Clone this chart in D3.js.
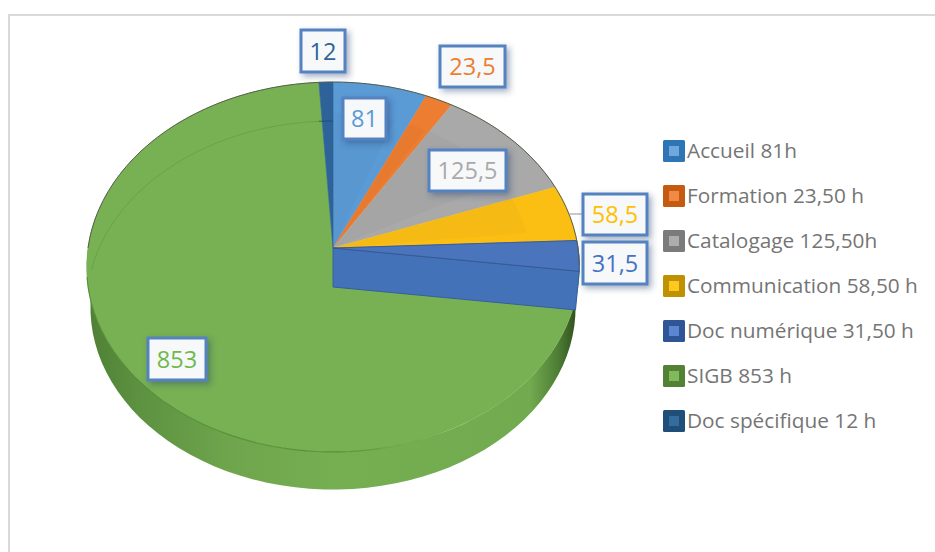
<!DOCTYPE html>
<html><head><meta charset="utf-8">
<script src="https://cdn.jsdelivr.net/npm/d3@7/dist/d3.min.js"></script>
<style>html,body{margin:0;padding:0;background:#fff}svg{display:block}text{font-family:"Open Sans",sans-serif}</style>
</head><body><svg id="c" width="935" height="552"></svg>
<script>
const categories = ["Accueil","Formation","Catalogage","Communication","Doc numérique","SIGB","Doc spécifique"];
const values = [81,23.5,125.5,58.5,31.5,853,12];
const valueLabels = ["81","23,5","125,5","58,5","31,5","853","12"];
const legendLabels = ["Accueil 81h","Formation 23,50 h","Catalogage 125,50h","Communication 58,50 h","Doc numérique 31,50 h","SIGB 853 h","Doc spécifique 12 h"];
const topColors = ["#5B9BD5","#ED7D31","#A9A9A9","#FBBF14","#4A74BC","#77B153","#2E6399"];
const labelColors = ["#5B9BD5","#ED7D31","#A9A9A9","#FFC000","#4472C4","#70B84A","#2E6399"];
const legendOuter = ["#2E75B6","#C55A11","#7B7B7B","#BF9000","#2F5597","#548235","#1F4E79"];
const legendInner = ["#6FA8DC","#F08A45","#ADADAD","#FFC81E","#5B86D2","#7FBB5A","#356C9E"];
const labelBoxes = [[343,98,43,41],[440,46,65,41],[429,150,77,41],[583,194,64,41],[583,242,64,42],[148,338,58,42],[301,30,44,42]];

const svg = d3.select("#c");
const defs = svg.append("defs");
const f = defs.append("filter").attr("id","sh").attr("x","-30%").attr("y","-30%").attr("width","170%").attr("height","170%");
f.append("feDropShadow").attr("dx",3).attr("dy",3).attr("stdDeviation",3).attr("flood-color","#27406b").attr("flood-opacity",.42);
const wg = defs.append("linearGradient").attr("id","wall").attr("x1",0).attr("x2",1).attr("y1",0).attr("y2",0);
[[0,"#4f7f35"],[.1,"#5c9140"],[.3,"#6fa64d"],[.5,"#76ae52"],[.9,"#72aa4f"],[.955,"#4f7f35"],[1,"#2c4a1a"]].forEach(s=>wg.append("stop").attr("offset",s[0]).attr("stop-color",s[1]));
const rg = defs.append("linearGradient").attr("id","rimfade").attr("gradientUnits","userSpaceOnUse").attr("x1",90).attr("x2",450).attr("y1",0).attr("y2",0);
[[0,"#4f8a33",.85],[.7,"#4f8a33",.85],[1,"#4f8a33",0]].forEach(s=>rg.append("stop").attr("offset",s[0]).attr("stop-color",s[1]).attr("stop-opacity",s[2]));

// frame
svg.append("path").attr("d","M9,552V15H935").attr("fill","none").attr("stroke","#d9d9d9").attr("stroke-width",2);

// perspective disc projection
const cx=333, cy=248, R=245, S=183, K=0.1027, DEPTH=39;
function P(theta,r=1,dz=0){
  const X=Math.sin(theta)*r, Y=-Math.cos(theta)*r, w=1-K*Y;
  return [cx+R*X/w, cy+S*Y/w+dz];
}
const arcs = d3.pie().sort(null).startAngle(0).endAngle(2*Math.PI).value(d=>d)(values);
const line = d3.line();
const rim=(a,b,dz=0,r=1)=>d3.range(0,61).map(i=>P(a+(b-a)*i/60,r,dz));

const sigb=arcs[5], numer=arcs[4], spec=arcs[6];
// outer wall of the pie
const wallPts = rim(Math.PI*0.53,Math.PI*1.56,0).concat(rim(Math.PI*0.53,Math.PI*1.56,41,.985).reverse());
svg.append("path").attr("d",line(wallPts)+"Z").attr("fill","url(#wall)");

// top faces
arcs.forEach((a,i)=>{
  const pts=[P(0,0)].concat(rim(a.startAngle,a.endAngle));
  svg.append("path").attr("d",line(pts)+"Z").attr("fill",topColors[i])
     .attr("stroke",topColors[i]).attr("stroke-width",.6);
});
// subtle facets: inner part of slices slightly darker
[0,1,2,3].forEach(i=>{
  const a=arcs[i], m=(a.startAngle+a.endAngle)/2, h=(a.endAngle-a.startAngle)/2;
  const pts=[P(0,0)].concat(d3.range(0,21).map(j=>P(m-h+h*1.6*j/20,.8)));
  svg.append("path").attr("d",line(pts)+"Z").attr("fill","#000").attr("opacity",.025);
});
// rim of the disc, front edge
svg.append("path").attr("d",line(rim(Math.PI*.85,Math.PI*1.45))).attr("fill","none").attr("stroke","url(#rimfade)").attr("stroke-width",1.2);
// back edge of the lower disc seen through the top
svg.append("path").attr("d",line(rim(Math.PI*1.53,2*Math.PI-(spec.endAngle-spec.startAngle),DEPTH))).attr("fill","none").attr("stroke","#5f9a3e").attr("stroke-width",1).attr("opacity",.6);
svg.append("path").attr("d",line(rim(spec.startAngle,spec.endAngle,DEPTH))).attr("fill","none").attr("stroke","#1f4e79").attr("stroke-width",1);
// blue slice side wall
const e=numer.endAngle, s=numer.startAngle;
svg.append("path").attr("d",line([P(0,0),P(e),P(e,.985,DEPTH),P(0,0,DEPTH)])+"Z").attr("fill","#4472B8").attr("stroke","#34609f").attr("stroke-width",1);
svg.append("path").attr("d",line([P(0,0)].concat(rim(s,e),[P(0,0)]))+"Z").attr("fill","#4A74BC").attr("stroke","#34568f").attr("stroke-width",.8);
// back silhouette line
svg.append("path").attr("d",line(rim(Math.PI*1.5,Math.PI*2.53))).attr("fill","none").attr("stroke","#55604b").attr("stroke-width",1);

// leader
const m3=arcs[3];
const lp=P(m3.startAngle+(m3.endAngle-m3.startAngle)*.53);
svg.append("line").attr("x1",lp[0]).attr("y1",214).attr("x2",583).attr("y2",214).attr("stroke","#a6a6a6").attr("stroke-width",1.2);

// data labels
labelBoxes.forEach((b,i)=>{
  svg.append("rect").attr("x",b[0]).attr("y",b[1]).attr("width",b[2]).attr("height",b[3])
    .attr("fill","#f6f8fa").attr("stroke","#5582c0").attr("stroke-width",3).attr("filter","url(#sh)");
  svg.append("text").attr("x",b[0]+b[2]/2).attr("y",b[1]+b[3]/2+8.5).attr("text-anchor","middle")
    .attr("font-size",23.5).attr("fill",labelColors[i]).text(valueLabels[i]);
});

// legend
const ly=d3.scalePoint().domain(categories).range([151,421]);
categories.forEach((c,i)=>{
  const y=ly(c);
  svg.append("rect").attr("x",663).attr("y",y-11).attr("width",22).attr("height",22).attr("rx",1.5).attr("fill",legendOuter[i]);
  svg.append("rect").attr("x",669).attr("y",y-5).attr("width",10).attr("height",10).attr("fill",legendInner[i]);
  svg.append("text").attr("x",687).attr("y",y+7).attr("font-size",20.8).attr("fill","#757575").text(legendLabels[i]);
});
</script></body></html>
